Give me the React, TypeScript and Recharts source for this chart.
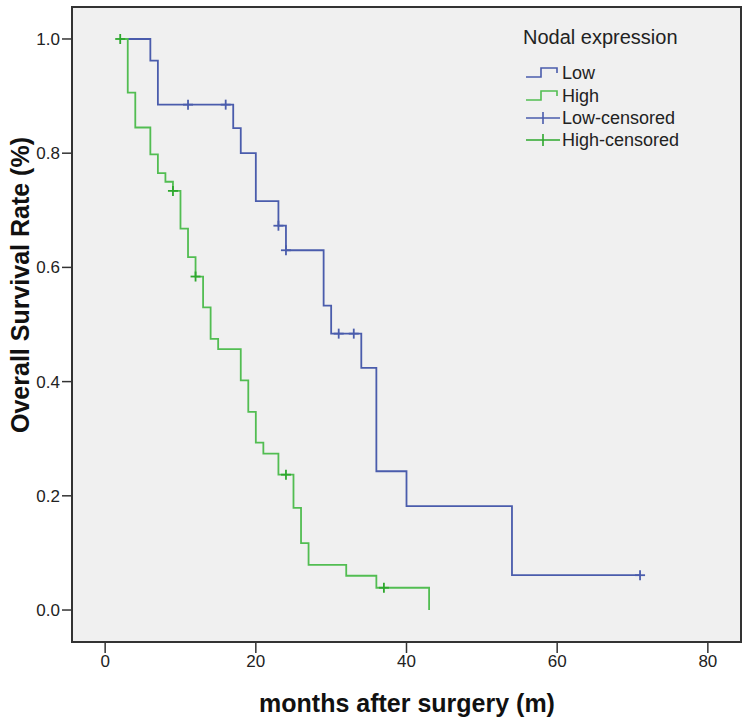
import { ComposedChart, Line, Scatter, XAxis, YAxis, ReferenceArea, CartesianGrid } from 'recharts'

// Kaplan-Meier steps: months vs. cumulative survival
const lowSteps = [
  { x: 3, y: 1.0 }, { x: 6, y: 0.962 }, { x: 7, y: 0.885 }, { x: 17, y: 0.844 },
  { x: 18, y: 0.8 }, { x: 20, y: 0.716 }, { x: 23, y: 0.673 }, { x: 24, y: 0.63 },
  { x: 29, y: 0.533 }, { x: 30, y: 0.484 }, { x: 34, y: 0.424 }, { x: 36, y: 0.243 },
  { x: 40, y: 0.182 }, { x: 54, y: 0.061 }, { x: 71, y: 0.061 },
]

const highSteps = [
  { x: 2, y: 1.0 }, { x: 3, y: 0.906 }, { x: 4, y: 0.845 }, { x: 6, y: 0.798 },
  { x: 7, y: 0.765 }, { x: 8, y: 0.75 }, { x: 9, y: 0.734 }, { x: 10, y: 0.668 },
  { x: 11, y: 0.618 }, { x: 12, y: 0.584 }, { x: 13, y: 0.53 }, { x: 14, y: 0.475 },
  { x: 15, y: 0.457 }, { x: 18, y: 0.402 }, { x: 19, y: 0.347 }, { x: 20, y: 0.293 },
  { x: 21, y: 0.274 }, { x: 23, y: 0.237 }, { x: 25, y: 0.179 }, { x: 26, y: 0.117 },
  { x: 27, y: 0.079 }, { x: 32, y: 0.06 }, { x: 36, y: 0.039 }, { x: 43, y: 0 },
]

const lowCensored = [
  { x: 11, y: 0.885 }, { x: 16, y: 0.885 }, { x: 23, y: 0.673 }, { x: 24, y: 0.63 },
  { x: 31, y: 0.484 }, { x: 33, y: 0.484 }, { x: 71, y: 0.061 },
]

const highCensored = [
  { x: 2, y: 1.0 }, { x: 9, y: 0.734 }, { x: 12, y: 0.584 }, { x: 24, y: 0.237 }, { x: 37, y: 0.039 },
]

const xTicks = [0, 20, 40, 60, 80]
const yTicks = [0, 0.2, 0.4, 0.6, 0.8, 1.0]
const legendItems = ['Low', 'High', 'Low-censored', 'High-censored']

const BLUE = '#4a5cac'
const GREEN = '#52bd52'
const GREEN_MARK = '#2ea82e'
const FONT = 'Arial, "Liberation Sans", sans-serif'

const X_DOMAIN: [number, number] = [-4.4, 84.4]
const Y_DOMAIN: [number, number] = [-0.056, 1.056]

const plusShape = (color: string) => (props: any) => {
  const { cx, cy } = props
  if (cx == null || cy == null) return <g />
  return (
    <g stroke={color} strokeWidth={1.8}>
      <line x1={cx - 5} y1={cy} x2={cx + 5} y2={cy} />
      <line x1={cx} y1={cy - 5} x2={cx} y2={cy + 5} />
    </g>
  )
}

function legendBox() {
  const rows = [73, 96, 118, 140]
  const colors = [BLUE, GREEN, BLUE, GREEN_MARK]
  return (
    <g fontFamily={FONT}>
      <text x={523} y={37} fontSize={20} fill="#222" dominantBaseline="central">Nodal expression</text>
      {legendItems.map((name, i) => {
        const y = rows[i]
        const c = colors[i]
        return (
          <g key={name}>
            {i < 2 ? (
              <path d={`M526,${y + 4}H541V${y - 5}H557V${y}`} fill="none" stroke={c} strokeWidth={1.6} />
            ) : (
              <g stroke={c} strokeWidth={1.6}>
                <line x1={526} y1={y} x2={560} y2={y} />
                <line x1={543} y1={y - 6} x2={543} y2={y + 6} />
              </g>
            )}
            <text x={562} y={y} fontSize={18} fill="#222" dominantBaseline="central">{name}</text>
          </g>
        )
      })}
    </g>
  )
}

export default function App() {
  return (
    <div style={{ position: 'absolute', left: 0, top: 0, width: 747, height: 720, background: '#fff' }}>
      <ComposedChart width={747} height={720} margin={{ top: 7, right: 6, bottom: 0, left: 0 }}>
        <CartesianGrid horizontal={false} vertical={false} fill="#f0f0f0" fillOpacity={1} />
        <XAxis
          type="number"
          dataKey="x"
          domain={X_DOMAIN}
          ticks={xTicks}
          allowDataOverflow
          axisLine={false}
          tickSize={11}
          tickLine={{ stroke: '#333', strokeWidth: 1.5 }}
          tick={{ fontSize: 17, fill: '#222', fontFamily: FONT }}
          height={78}
        />
        <YAxis
          type="number"
          dataKey="y"
          domain={Y_DOMAIN}
          ticks={yTicks}
          allowDataOverflow
          axisLine={false}
          tickSize={10}
          tickLine={{ stroke: '#333', strokeWidth: 1.5 }}
          tickFormatter={(v: number) => v.toFixed(1)}
          tick={{ fontSize: 17, fill: '#222', fontFamily: FONT }}
          width={72}
        />
        <ReferenceArea
          x1={X_DOMAIN[0]}
          x2={X_DOMAIN[1]}
          y1={Y_DOMAIN[0]}
          y2={Y_DOMAIN[1]}
          fill="none"
          stroke="#333"
          strokeWidth={2}
        />
        <Line data={lowSteps} dataKey="y" type="stepAfter" stroke={BLUE} strokeWidth={1.8} dot={false} isAnimationActive={false} />
        <Line data={highSteps} dataKey="y" type="stepAfter" stroke={GREEN} strokeWidth={1.8} dot={false} isAnimationActive={false} />
        <Scatter data={lowCensored} dataKey="y" shape={plusShape(BLUE)} isAnimationActive={false} />
        <Scatter data={highCensored} dataKey="y" shape={plusShape(GREEN_MARK)} isAnimationActive={false} />
        <text
          x={407}
          y={703}
          textAnchor="middle"
          dominantBaseline="central"
          fontFamily={FONT}
          fontWeight="bold"
          fontSize={25}
          fill="#111"
        >
          months after surgery (m)
        </text>
        <text
          x={20}
          y={285}
          transform="rotate(-90 20 285)"
          textAnchor="middle"
          dominantBaseline="central"
          fontFamily={FONT}
          fontWeight="bold"
          fontSize={25}
          fill="#111"
        >
          Overall Survival Rate (%)
        </text>
        {legendBox()}
      </ComposedChart>
    </div>
  )
}
